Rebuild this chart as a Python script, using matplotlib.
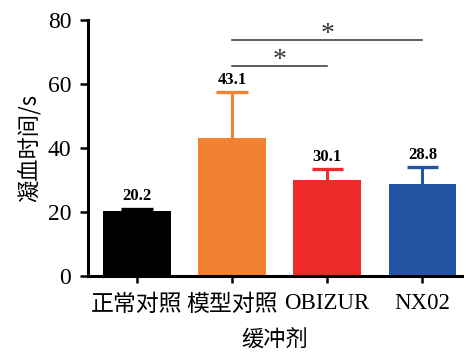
import matplotlib
matplotlib.use("Agg")
import matplotlib.pyplot as plt
from matplotlib.transforms import ScaledTranslation

# Coagulation time per buffer group (mean, upper SD)
groups = ["正常对照", "模型对照", "OBIZUR", "NX02"]
means = [20.2, 43.1, 30.1, 28.8]
sd = [0.9, 14.4, 3.3, 5.3]
colors = ["#000000", "#F28131", "#EE2A2B", "#2454A4"]
yticks = [0, 20, 40, 60, 80]

# Significance brackets: (from group, to group, height)
sig_pairs = [(1, 2, 65.6), (1, 3, 73.8)]

serif = ["Liberation Serif", "Noto Sans CJK SC"]
cjk = ["Noto Sans CJK SC", "Liberation Serif"]

fig = plt.figure(figsize=(4.67, 3.53), dpi=100)
ax = fig.add_axes([0.188, 0.218, 0.802, 0.725])

x = list(range(len(groups)))
width = 0.71
cap = 0.33
ax.bar(x, means, width=width, color=colors, zorder=2)
for xi, m, s, c in zip(x, means, sd, colors):
    # upper error bar only: stem from bar top plus a cap
    ax.vlines(xi, m, m + s, color=c, lw=2.2, zorder=1)
    ax.hlines(m + s, xi - cap / 2, xi + cap / 2, color=c, lw=2.4, zorder=1)
    ax.text(xi, m + s + 1.3, f"{m:.1f}", ha="center", va="bottom",
            fontsize=12, fontweight="bold", family="Liberation Serif")

for a, b, h in sig_pairs:
    ax.plot([a, b], [h, h], color="#333333", lw=1.1)
    ax.text((a + b) / 2, h - 0.2, "*", ha="center", va="baseline",
            fontsize=20, color="#333333", family="Liberation Serif")

ax.set_xlim(-0.516, 3.42)
ax.set_ylim(0, 80)
ax.set_yticks(yticks)
ax.set_yticklabels([str(t) for t in yticks], family=serif, fontsize=17)
ax.set_xticks(x)
ax.set_xticklabels(groups, family=cjk, fontsize=16.5)
for lbl in ax.get_xticklabels()[2:]:
    lbl.set_family(serif)
    lbl.set_fontsize(16.5)
first = ax.get_xticklabels()[0]
first.set_transform(first.get_transform()
                    + ScaledTranslation(-0.09, 0, fig.dpi_scale_trans))

ax.set_ylabel("凝血时间/s", family=cjk, fontsize=16, labelpad=4)
ax.set_xlabel("缓冲剂", family=cjk, fontsize=16, labelpad=9)

for side in ("top", "right"):
    ax.spines[side].set_visible(False)
for side in ("left", "bottom"):
    ax.spines[side].set_linewidth(2.2)
ax.tick_params(axis="y", length=6, width=1.8, pad=6)
ax.tick_params(axis="x", length=5, width=1.8, pad=7)

fig.savefig("out.png", dpi=100)
